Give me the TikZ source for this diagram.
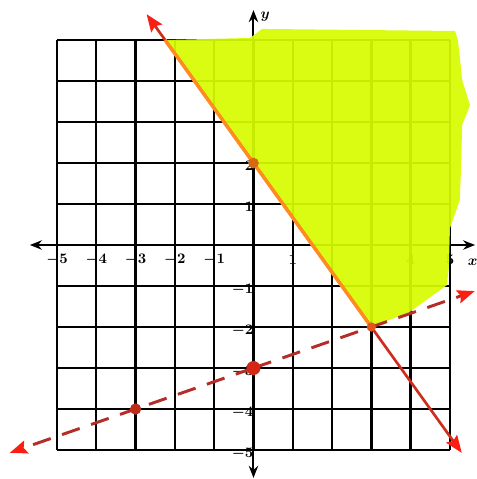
\documentclass[tikz,border=0pt]{standalone}
\usetikzlibrary{arrows.meta}
\definecolor{hl}{RGB}{214,252,0}
\definecolor{redline}{RGB}{205,45,30}
\definecolor{dashred}{RGB}{180,45,40}
\definecolor{tipred}{RGB}{250,30,20}
\definecolor{orangeline}{RGB}{255,140,30}
\tikzset{
  gridline/.style={line width=1.8pt, black},
  axisline/.style={line width=1.5pt, black},
  axistip/.style={-{Stealth[length=9pt,width=7pt]}},
  ticklab/.style={font=\fontsize{11}{12}\selectfont\boldmath, inner sep=0.5pt},
  redtip/.style={-{Stealth[length=13pt,width=10pt,inset=2pt,color=tipred]}},
  dotpt/.style={circle, inner sep=0pt, minimum size=#1},
}
\begin{document}
\begin{tikzpicture}[x=29.475pt, y=30.75pt]
\useasboundingbox (-6.450,5.976) rectangle (5.662,-5.707);
% grid
\foreach \k in {-5,...,5} {
  \draw[gridline] (\k,-5) -- (\k,5);
  \draw[gridline] (-5,\k) -- (5,\k);
}
% axes
\coordinate (xl) at (-5.69,0);
\coordinate (xr) at (5.64,0);
\coordinate (yt) at (0,5.73);
\coordinate (yb) at (0,-5.68);
\coordinate (o) at (0,0);
\draw[axisline, axistip] (o) -- (xl);
\draw[axisline, axistip] (o) -- (xr);
\draw[axisline, axistip] (o) -- (yt);
\draw[axisline, axistip] (o) -- (yb);
% tick labels
\foreach \i in {-5,-4,-3,-2,-1,1,4,5}
  \node[ticklab] (xt\i) at (\i,-0.35) {$\i$};
\foreach \j in {2,1,-1,-2,-3,-4,-5}
  \node[ticklab, anchor=east] (ytl\j) at (0.02,\j-0.08) {$\j$};
\node[ticklab, inner sep=0pt] (ylab) at (0.30,5.58) {$y$};
\node[ticklab, inner sep=0pt] (xlab) at (5.58,-0.42) {$x$};
% highlighted region
\fill[hl, fill opacity=0.93]
  (-2.25,5) -- (-0.09,5.05) -- (0.22,5.27) -- (5.13,5.22) -- (5.20,5.0)
  .. controls (5.25,4.6) .. (5.31,4.02) -- (5.51,3.41) -- (5.31,2.93)
  -- (5.28,1.83) -- (5.25,1.10) -- (5.0,0.41) -- (4.97,-0.56) -- (4.92,-0.98)
  -- (3.98,-1.63) -- (3,-2) -- cycle;
% lines
\coordinate (sa) at (-2.72,5.63);
\coordinate (sb) at (5.30,-5.07);
\coordinate (top) at (-2.25,5);
\coordinate (p1) at (0,2);
\coordinate (p2) at (3,-2);
\coordinate (da) at (-6.20,-5.067);
\coordinate (db) at (5.63,-1.123);
\coordinate (q1) at (0,-3);
\coordinate (q2) at (-3,-4);
\draw[line width=2.2pt, dashred, dash pattern=on 14pt off 9pt, redtip] (q1) -- (da);
\draw[line width=2.2pt, dashred, dash pattern=on 14pt off 9pt, redtip] (q1) -- (db);
\draw[line width=2pt, redline, redtip] (p1) -- (sa);
\draw[line width=2pt, redline, redtip] (p1) -- (sb);
\draw[line width=2.6pt, orangeline] (top) -- (p2);
% points
\node[dotpt=8pt, fill={rgb,255:red,215;green,105;blue,20}] (d1) at (p1) {};
\node[dotpt=7pt, fill={rgb,255:red,225;green,85;blue,30}] (d2) at (p2) {};
\node[dotpt=10.5pt, fill={rgb,255:red,212;green,40;blue,20}] (d3) at (q1) {};
\node[dotpt=8.5pt, fill={rgb,255:red,185;green,45;blue,25}] (d4) at (q2) {};
\end{tikzpicture}
\end{document}
